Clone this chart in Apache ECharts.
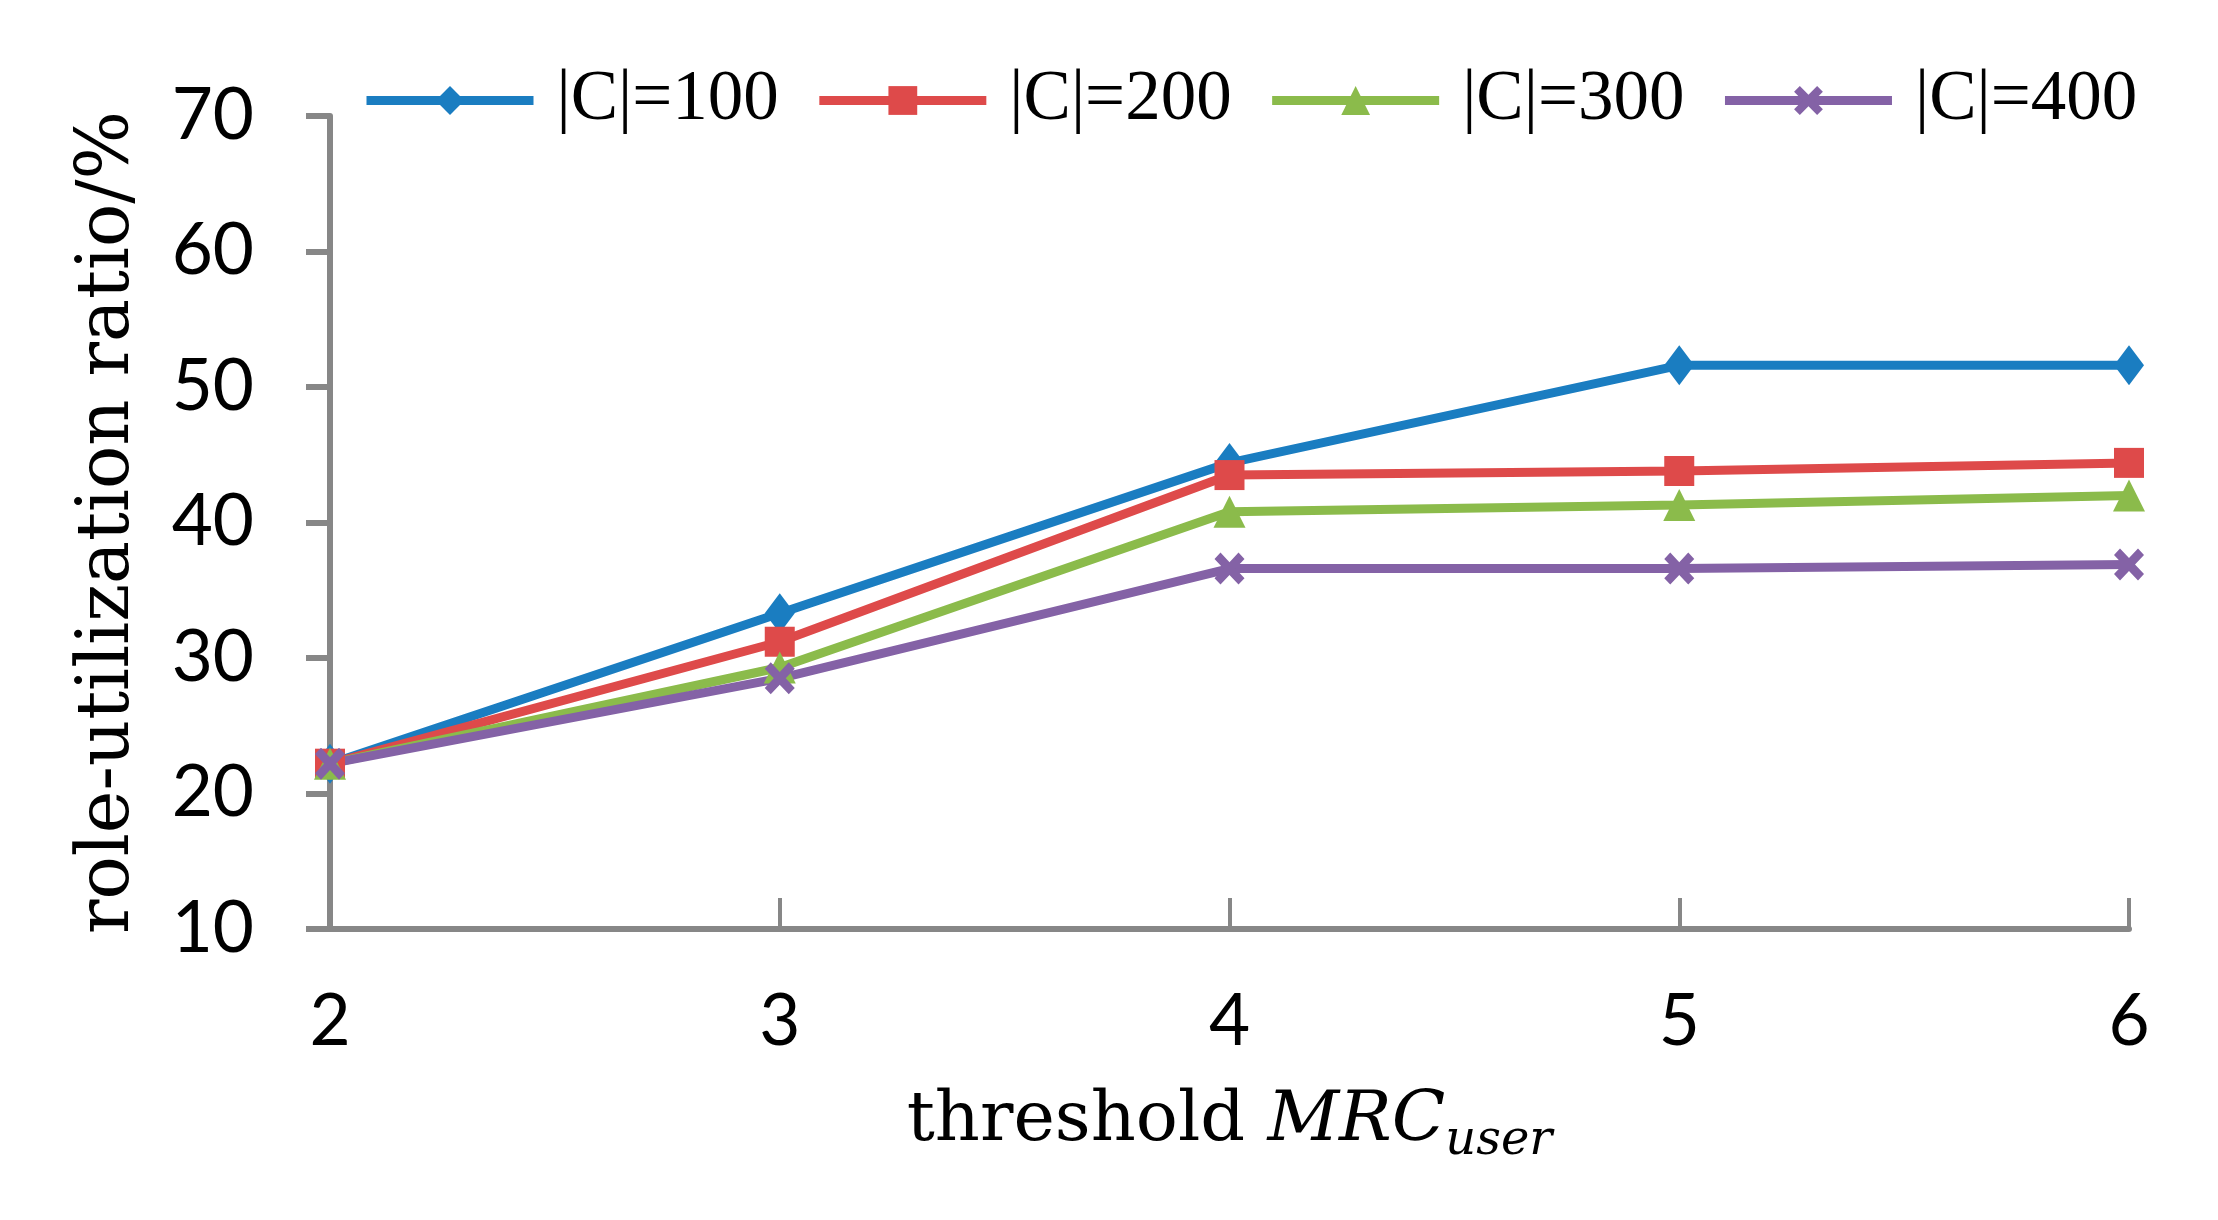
<!DOCTYPE html>
<html>
<head>
<meta charset="utf-8">
<script src="https://cdn.jsdelivr.net/npm/echarts@6/dist/echarts.min.js"></script>
<style>
  html, body { margin: 0; padding: 0; background: #fff; }
  #chart { width: 2218px; height: 1220px; }
</style>
</head>
<body>
<div id="chart"></div>
<script>
// threshold MRC_user values on the x axis
const thresholds = ['2', '3', '4', '5', '6'];

// role-utilization ratio (%) per |C|
const c100 = [22.2, 33.3, 44.4, 51.6, 51.6];
const c200 = [22.2, 31.2, 43.5, 43.8, 44.4];
const c300 = [22.2, 29.3, 40.8, 41.3, 42.0];
const c400 = [22.2, 28.5, 36.6, 36.6, 36.9];

const seriesNames = ['|C|=100', '|C|=200', '|C|=300', '|C|=400'];

const crossPath = 'path://M2,0 L5,3 L8,0 L10,2 L7,5 L10,8 L8,10 L5,7 L2,10 L0,8 L3,5 L0,2 Z';

function makeLine(name, data, color, symbol, size) {
  return {
    name: name,
    type: 'line',
    data: data,
    symbol: symbol,
    symbolSize: size,
    lineStyle: { color: color, width: 9 },
    itemStyle: { color: color },
    emphasis: { disabled: true },
    animation: false
  };
}

const chart = echarts.init(document.getElementById('chart'));

chart.setOption({
  backgroundColor: '#ffffff',
  legend: {
    left: 357,
    top: 60,
    itemWidth: 167,
    itemHeight: 36,
    itemGap: 36,
    lineStyle: { width: 9 },
    textStyle: {
      fontFamily: 'Liberation Serif',
      fontSize: 71,
      color: '#000',
      padding: [0, 0, 0, 18]
    },
    data: seriesNames
  },
  grid: { left: 330, right: 89, top: 116, bottom: 291 },
  xAxis: {
    type: 'category',
    data: thresholds,
    boundaryGap: false,
    axisLine: { lineStyle: { color: '#878787', width: 6 } },
    axisTick: { inside: true, length: 31, lineStyle: { color: '#878787', width: 4 } },
    axisLabel: { margin: 58, fontFamily: 'Lato', fontSize: 71, color: '#000' },
    name: '{a|threshold }{b|MRC}{c|user}',
    nameLocation: 'middle',
    nameGap: 148,
    nameTextStyle: {
      rich: {
        a: { fontFamily: 'DejaVu Serif', fontSize: 70, color: '#000', lineHeight: 90 },
        b: { fontFamily: 'DejaVu Serif', fontStyle: 'italic', fontSize: 70, color: '#000', lineHeight: 90 },
        c: { fontFamily: 'DejaVu Serif', fontStyle: 'italic', fontSize: 48, color: '#000', lineHeight: 90, padding: [40, 0, 0, 0] }
      }
    }
  },
  yAxis: {
    type: 'value',
    min: 10,
    max: 70,
    interval: 10,
    splitLine: { show: false },
    axisLine: { show: true, lineStyle: { color: '#878787', width: 6 } },
    axisTick: { show: true, length: 24, lineStyle: { color: '#878787', width: 6 } },
    axisLabel: { margin: 76, fontFamily: 'Lato', fontSize: 71, color: '#000' },
    name: 'role-utilization ratio/%',
    nameLocation: 'middle',
    nameGap: 185,
    nameTextStyle: { fontFamily: 'DejaVu Serif', fontSize: 72, color: '#000' }
  },
  series: [
    makeLine(seriesNames[0], c100, '#1a7dc1', 'diamond', [30, 40]),
    makeLine(seriesNames[1], c200, '#de4a4a', 'rect', [30, 30]),
    makeLine(seriesNames[2], c300, '#8bbb4b', 'triangle', [32, 32]),
    makeLine(seriesNames[3], c400, '#8462a6', crossPath, [30, 32])
  ]
});
</script>
</body>
</html>
